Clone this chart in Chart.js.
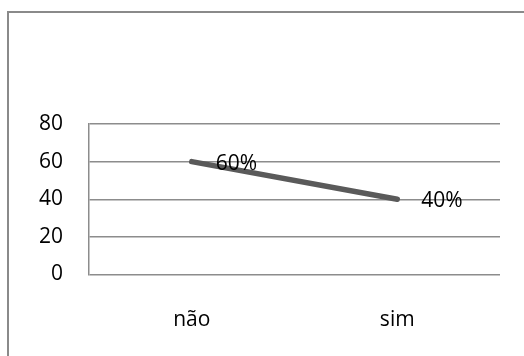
<!DOCTYPE html>
<html>
<head>
<meta charset="utf-8">
<script src="https://cdn.jsdelivr.net/npm/chart.js@4/dist/chart.umd.min.js"></script>
<style>
  html, body { margin: 0; padding: 0; background: #ffffff; overflow: hidden; }
  #wrap { position: relative; width: 524px; height: 356px; }
</style>
</head>
<body>
<div id="wrap"><canvas id="c" width="524" height="356"></canvas></div>
<script>
// Answers and their share
const categories = ['não', 'sim'];
const values = [60, 40];
const valueLabels = ['60%', '40%'];
const yTicks = [0, 20, 40, 60, 80];

const FONT = "'Open Sans', 'Liberation Sans', sans-serif";

// Outer frame of the chart object (its right and bottom edges run past the page)
const framePlugin = {
  id: 'frame',
  beforeDraw(chart) {
    const ctx = chart.ctx;
    ctx.save();
    ctx.fillStyle = '#ffffff';
    ctx.fillRect(0, 0, chart.width, chart.height);
    ctx.strokeStyle = '#8a8a8a';
    ctx.lineWidth = 2;
    ctx.beginPath();
    ctx.moveTo(8, chart.height + 5);
    ctx.lineTo(8, 12);
    ctx.lineTo(chart.width + 5, 12);
    ctx.stroke();
    ctx.restore();
  }
};

// Percent labels to the right of each point
const valueLabelPlugin = {
  id: 'valueLabels',
  afterDatasetsDraw(chart) {
    const ctx = chart.ctx;
    const meta = chart.getDatasetMeta(0);
    ctx.save();
    ctx.font = '21px ' + FONT;
    ctx.fillStyle = '#000000';
    ctx.textAlign = 'left';
    ctx.textBaseline = 'middle';
    meta.data.forEach((pt, i) => {
      ctx.fillText(valueLabels[i], pt.x + 24, pt.y + 2);
    });
    ctx.restore();
  }
};

new Chart(document.getElementById('c'), {
  type: 'line',
  data: {
    labels: categories,
    datasets: [{
      data: values,
      borderColor: '#5a5a5a',
      borderWidth: 5.5,
      borderCapStyle: 'round',
      pointRadius: 0,
      tension: 0
    }]
  },
  options: {
    responsive: false,
    animation: false,
    layout: { padding: { left: 0, right: 24, top: 124, bottom: 0 } },
    plugins: { legend: { display: false }, tooltip: { enabled: false } },
    scales: {
      x: {
        type: 'category',
        offset: true,
        grid: { display: false, drawTicks: false },
        border: { display: false },
        ticks: { color: '#000000', font: { family: FONT, size: 21 }, padding: 33, maxRotation: 0 },
        afterFit(scale) { scale.height = 356 - 274.5; }
      },
      y: {
        min: 0,
        max: 80,
        afterBuildTicks(scale) { scale.ticks = yTicks.map(v => ({ value: v })); },
        grid: { color: '#8c8c8c', lineWidth: 1.5, drawTicks: false },
        border: { display: true, color: '#8c8c8c', width: 1.5 },
        ticks: { color: '#000000', font: { family: FONT, size: 21 }, padding: 26 },
        afterFit(scale) { scale.width = 89; }
      }
    }
  },
  plugins: [framePlugin, valueLabelPlugin]
});
</script>
</body>
</html>
